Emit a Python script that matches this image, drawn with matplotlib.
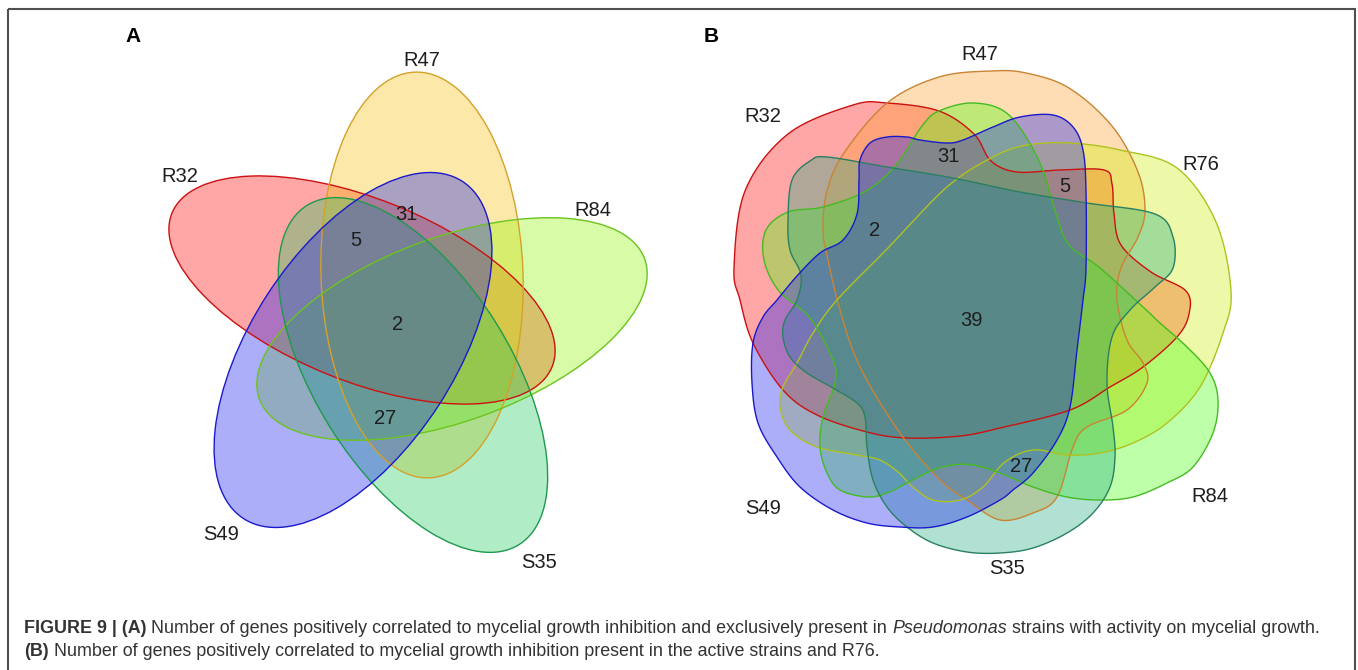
import matplotlib
matplotlib.use("Agg")
import matplotlib.pyplot as plt
from matplotlib.patches import Ellipse, Polygon, Rectangle
import numpy as np

plt.rcParams['font.family'] = ['Liberation Sans', 'DejaVu Sans']

# set names and intersection counts
sets_a = ["R32", "R47", "R84", "S35", "S49"]
counts_a = [31, 5, 2, 27]
sets_b = ["R32", "R47", "R76", "R84", "S35", "S49"]
counts_b = [31, 5, 2, 39, 27]

fill_cols = {
    "R32": "#FF0000", "R47": "#F9C009", "R84": "#8FF500",
    "S35": "#1DC95C", "S49": "#1218F1", "R76": "#CEF006",
}
edge_cols = {
    "R32": "#CC1111", "R47": "#D4A229", "R84": "#6CC41E",
    "S35": "#1E9A4C", "S49": "#1A1ACC", "R76": "#AFC21F",
}
# panel B uses slightly different hues for some sets
fill_cols_b = dict(fill_cols, R47="#FFA028", R84="#46FF0A", S35="#1EAA7E")
edge_cols_b = dict(edge_cols, R47="#C98435", R84="#45BB22", S35="#2A8060")

# panel A ellipses: centre, full width, full height, angle (pixels, y down)
ellipses_a = {
    "R32": ((362, 290), 410, 182, 22),
    "R47": ((422, 275), 406, 202, 88),
    "R84": ((452, 329), 410, 184, -20),
    "S35": ((413, 375), 400, 196, 58),
    "S49": ((353, 350), 402, 204, -57),
}
label_pos_a = {"R32": (180, 177), "R47": (422, 60), "R84": (593, 210),
               "S35": (539, 562), "S49": (221, 535)}
count_pos_a = [(406, 214), (356, 241), (398, 325), (385, 419)]

# panel B outlines (control points of closed curves, pixels)
shapes_b = {
    "R32": [(887, 103), (939, 111), (974, 134), (991, 161), (1017, 172), (1060, 170),
            (1104, 170), (1112, 184), (1114, 214), (1121, 245), (1151, 272), (1186, 291),
            (1189, 314), (1177, 337), (1143, 367), (1110, 387), (1070, 410), (1000, 428),
            (960, 436), (907, 438), (867, 432), (817, 415), (783, 390), (753, 343),
            (740, 300), (734, 268), (745, 191), (788, 134), (853, 105)],
    "R47": [(991, 71), (1026, 73), (1069, 88), (1112, 126), (1138, 172), (1145, 210),
            (1138, 237), (1121, 268), (1117, 300), (1127, 340), (1143, 363), (1147, 383),
            (1127, 410), (1087, 427), (1073, 447), (1057, 497), (1033, 513), (1000, 520),
            (967, 500), (940, 480), (900, 433), (860, 367), (840, 310), (828, 260),
            (823, 230), (827, 191), (844, 153), (887, 103), (939, 77)],
    "R76": [(1027, 145), (1070, 143), (1120, 150), (1177, 168), (1216, 222), (1231, 291),
            (1223, 333), (1200, 387), (1167, 423), (1133, 443), (1100, 453), (1067, 455),
            (1033, 450), (1005, 462), (983, 487), (960, 500), (933, 500), (913, 487),
            (898, 472), (880, 460), (857, 455), (817, 447), (790, 430), (780, 407),
            (783, 387), (797, 363), (813, 333), (837, 300), (887, 249), (947, 187),
            (993, 157)],
    "R84": [(974, 103), (1009, 115), (1039, 161), (1056, 214), (1069, 245), (1100, 268),
            (1143, 307), (1160, 323), (1187, 347), (1210, 373), (1218, 400), (1213, 433),
            (1193, 467), (1167, 483), (1133, 497), (1100, 500), (1067, 497), (1033, 487),
            (1000, 473), (973, 465), (953, 465), (933, 470), (907, 483), (887, 493),
            (867, 497), (840, 490), (827, 473), (820, 447), (823, 417), (835, 383),
            (833, 360), (810, 318), (779, 291), (764, 260), (766, 230), (788, 212),
            (823, 207), (866, 191), (896, 165), (922, 126), (939, 111)],
    "S35": [(827, 157), (887, 167), (953, 178), (1020, 192), (1087, 203), (1155, 214),
            (1173, 237), (1173, 268), (1155, 287), (1130, 310), (1112, 337), (1107, 383),
            (1113, 427), (1115, 457), (1110, 487), (1093, 513), (1067, 533), (1033, 548),
            (1000, 553), (967, 552), (933, 543), (907, 527), (887, 507), (873, 480),
            (867, 447), (865, 417), (857, 403), (833, 388), (807, 373), (790, 357),
            (783, 337), (785, 320), (797, 300), (801, 275), (790, 250), (788, 220),
            (792, 180), (810, 161)],
    "S49": [(870, 143), (887, 137), (907, 137), (920, 140), (947, 143), (963, 140),
            (993, 127), (1020, 117), (1053, 115), (1073, 127), (1083, 150), (1086, 191),
            (1086, 268), (1083, 300), (1077, 350), (1070, 407), (1057, 440), (1033, 473),
            (1013, 490), (1000, 500), (967, 517), (933, 527), (900, 527), (867, 523),
            (833, 510), (800, 487), (777, 457), (758, 423), (752, 383), (753, 343),
            (763, 317), (777, 300), (797, 276), (820, 253), (843, 240), (857, 214),
            (859, 180), (860, 160)],
}
label_pos_b = {"R32": (763, 117), "R47": (980, 55), "R76": (1201, 164),
               "R84": (1210, 496), "S35": (1007, 568), "S49": (763, 509)}
count_pos_b = [(948, 157), (1065, 187), (875, 230), (971, 320), (1021, 466)]

caption_1 = [("FIGURE 9 | (A)", "bold", "normal"),
             (" Number of genes positively correlated to mycelial growth inhibition and "
              "exclusively present in ", "normal", "normal"),
             ("Pseudomonas", "normal", "italic"),
             (" strains with activity on mycelial growth.", "normal", "normal")]
caption_2 = [("(B)", "bold", "normal"),
             (" Number of genes positively correlated to mycelial growth inhibition "
              "present in the active strains and R76.", "normal", "normal")]


def closed_curve(pts, n=16):
    # periodic Catmull-Rom spline through the control points
    P = np.asarray(pts, float)
    N = len(P)
    t = np.linspace(0, 1, n, endpoint=False)[:, None]
    segs = []
    for i in range(N):
        p0, p1, p2, p3 = P[i - 1], P[i], P[(i + 1) % N], P[(i + 2) % N]
        segs.append(0.5 * (2 * p1 + (-p0 + p2) * t
                           + (2 * p0 - 5 * p1 + 4 * p2 - p3) * t ** 2
                           + (-p0 + 3 * p1 - 3 * p2 + p3) * t ** 3))
    return np.vstack(segs)


fig = plt.figure(figsize=(13.58, 6.70), dpi=100)
ax = fig.add_axes([0, 0, 1, 1])
ax.set_xlim(0, 1358)
ax.set_ylim(670, 0)
ax.axis("off")

ALPHA = 0.35
txt = dict(fontsize=14.5, color="#1e1e1e", ha="center", va="center")

# panel A
for name in sets_a:
    c, w, h, ang = ellipses_a[name]
    ax.add_patch(Ellipse(c, w, h, angle=ang, facecolor=fill_cols[name],
                         alpha=ALPHA, edgecolor="none"))
for name in sets_a:
    c, w, h, ang = ellipses_a[name]
    ax.add_patch(Ellipse(c, w, h, angle=ang, facecolor="none",
                         edgecolor=edge_cols[name], lw=1.0))
for name in sets_a:
    ax.text(*label_pos_a[name], name, **txt)
for val, pos in zip(counts_a, count_pos_a):
    ax.text(*pos, str(val), **txt)
ax.text(133, 37, "A", fontsize=15, fontweight="bold", ha="center", va="center")

# panel B
for name in sets_b:
    ax.add_patch(Polygon(closed_curve(shapes_b[name]), closed=True,
                         facecolor=fill_cols_b[name], alpha=ALPHA, edgecolor="none"))
for name in sets_b:
    ax.add_patch(Polygon(closed_curve(shapes_b[name]), closed=True,
                         facecolor="none", edgecolor=edge_cols_b[name], lw=1.0))
for name in sets_b:
    ax.text(*label_pos_b[name], name, **txt)
for val, pos in zip(counts_b, count_pos_b):
    ax.text(*pos, str(val), **txt)
ax.text(711, 37, "B", fontsize=15, fontweight="bold", ha="center", va="center")

# frame
ax.add_patch(Rectangle((8, 9), 1347, 700, facecolor="none", edgecolor="#505050",
                       lw=1.5, clip_on=False))

# caption, drawn run by run so the bold and italic parts line up
renderer = fig.canvas.get_renderer()
for runs, y in ((caption_1, 633), (caption_2, 656)):
    x = 24
    for s, weight, style in runs:
        t = ax.text(x, y, s, fontsize=12.9, fontweight=weight, fontstyle=style,
                    color="#333333", ha="left", va="baseline")
        bb = t.get_window_extent(renderer)
        x += bb.width

fig.savefig("out.png", dpi=100)
